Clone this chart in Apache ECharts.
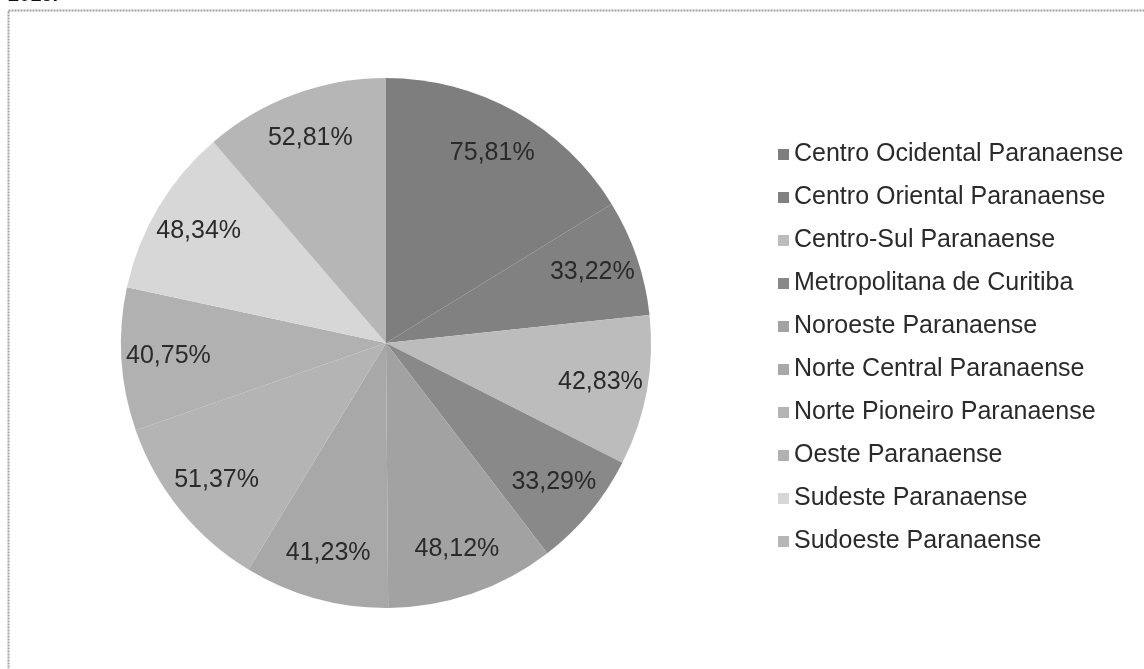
<!DOCTYPE html>
<html>
<head>
<meta charset="utf-8">
<script src="https://cdn.jsdelivr.net/npm/echarts@6/dist/echarts.min.js"></script>
<style>
html,body{margin:0;padding:0;background:#fff;}
#chart{width:1144px;height:669px;}
</style>
</head>
<body>
<div id="chart"></div>
<script>
const categories = [
  'Centro Ocidental Paranaense',
  'Centro Oriental Paranaense',
  'Centro-Sul Paranaense',
  'Metropolitana de Curitiba',
  'Noroeste Paranaense',
  'Norte Central Paranaense',
  'Norte Pioneiro Paranaense',
  'Oeste Paranaense',
  'Sudeste Paranaense',
  'Sudoeste Paranaense'
];
const values = [75.81, 33.22, 42.83, 33.29, 48.12, 41.23, 51.37, 40.75, 48.34, 52.81];
const colors = ['#7e7e7e', '#818181', '#bcbcbc', '#898989', '#a2a2a2', '#a8a8a8', '#b4b4b4', '#b1b1b1', '#d7d7d7', '#b6b6b6'];
const titleText = '2015.';

const fmt = v => v.toFixed(2).replace('.', ',') + '%';
const pieData = categories.map((c, i) => ({ name: c, value: values[i], itemStyle: { color: colors[i] } }));
const labelData = categories.map((c, i) => ({ name: c, value: values[i] }));

const chart = echarts.init(document.getElementById('chart'), null, { renderer: 'canvas' });
chart.setOption({
  animation: false,
  backgroundColor: '#ffffff',
  textStyle: { fontFamily: 'Liberation Sans, Arial, sans-serif' },
  graphic: [
    { type: 'rect', shape: { x: 8.5, y: 10.5, width: 1300, height: 800 },
      style: { fill: 'none', stroke: '#a0a0a0', lineWidth: 2, lineDash: [2, 1] }, silent: true },
    { type: 'text', left: 8, top: -15,
      style: { text: titleText, font: 'bold 20px "Liberation Sans", Arial, sans-serif', fill: '#111' }, silent: true }
  ],
  legend: {
    orient: 'vertical',
    left: 778,
    top: 142,
    padding: 0,
    icon: 'rect',
    itemWidth: 11,
    itemHeight: 11,
    itemGap: 18,
    selectedMode: false,
    data: categories,
    textStyle: { fontSize: 25, color: '#2a2a2a', lineHeight: 24, padding: [0, 0, 0, 0], fontFamily: 'Liberation Sans, Arial, sans-serif' }
  },
  series: [
    {
      type: 'pie',
      center: [386, 343],
      radius: 265,
      startAngle: 90,
      clockwise: true,
      avoidLabelOverlap: false,
      silent: true,
      label: { show: false },
      labelLine: { show: false },
      itemStyle: { borderWidth: 0 },
      data: pieData
    },
    {
      type: 'pie',
      center: [386, 343],
      radius: [165, 265],
      startAngle: 90,
      clockwise: true,
      avoidLabelOverlap: false,
      silent: true,
      legendHoverLink: false,
      itemStyle: { color: 'rgba(0,0,0,0)', borderWidth: 0 },
      label: {
        show: true,
        position: 'inside',
        formatter: p => fmt(p.value),
        fontSize: 25,
        color: '#2a2a2a',
        fontFamily: 'Liberation Sans, Arial, sans-serif'
      },
      labelLine: { show: false },
      data: labelData
    }
  ]
});
</script>
</body>
</html>
